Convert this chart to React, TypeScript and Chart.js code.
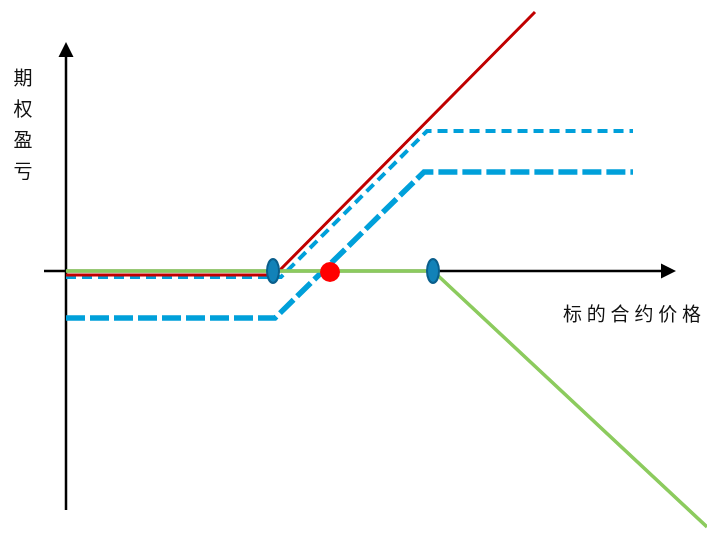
import React, { useEffect, useRef } from "react";
import { Chart, registerables } from "chart.js";

Chart.register(...registerables);

// Data (price units on x, profit/loss units on y)
const longCall = [
  { x: 0, y: -0.4 },
  { x: 20.9, y: -0.4 },
  { x: 46.9, y: 25.9 },
];
const spreadSmall = [
  { x: 0, y: -0.6 },
  { x: 21.5, y: -0.6 },
  { x: 36.1, y: 14.0 },
  { x: 56.7, y: 14.0 },
];
const spreadLarge = [
  { x: 0, y: -4.7 },
  { x: 20.9, y: -4.7 },
  { x: 35.8, y: 9.9 },
  { x: 56.7, y: 9.9 },
];
const shortCall = [
  { x: 0, y: 0 },
  { x: 36.7, y: 0 },
  { x: 64.1, y: -25.6 },
];
const strikes = [
  { x: 20.7, y: 0 },
  { x: 36.7, y: 0 },
];
const breakEven = [{ x: 26.4, y: -0.1 }];

const xRange = { min: -6.6, max: 64.1, axisFrom: -2.2, axisTo: 61.0 };
const yRange = { min: -26.5, max: 27.1, axisFrom: -23.9, axisTo: 22.9 };

const yLabel = ["期", "权", "盈", "亏"];
const xLabel = "标的合约价格";

function makeEllipse(): HTMLCanvasElement {
  const c = document.createElement("canvas");
  c.width = 16;
  c.height = 28;
  const g = c.getContext("2d")!;
  g.beginPath();
  g.ellipse(8, 14, 6, 12, 0, 0, Math.PI * 2);
  g.fillStyle = "#1282B8";
  g.fill();
  g.lineWidth = 2;
  g.strokeStyle = "#0A5F8C";
  g.stroke();
  return c;
}

export default function App() {
  const ref = useRef<HTMLCanvasElement | null>(null);

  useEffect(() => {
    document.body.style.margin = "0";
    document.body.style.overflow = "hidden";
    const canvas = ref.current!;
    const ellipse = makeEllipse();

    const axesPlugin = {
      id: "axesPlugin",
      beforeDatasetsDraw(chart: any) {
        const ctx = chart.ctx;
        const xs = chart.scales.x;
        const ys = chart.scales.y;
        const x0 = xs.getPixelForValue(0);
        const y0 = ys.getPixelForValue(0);
        const xl = xs.getPixelForValue(xRange.axisFrom);
        const xr = xs.getPixelForValue(xRange.axisTo);
        const yt = ys.getPixelForValue(yRange.axisTo);
        const yb = ys.getPixelForValue(yRange.axisFrom);
        ctx.save();
        ctx.strokeStyle = "#000";
        ctx.fillStyle = "#000";
        ctx.lineWidth = 2.5;
        // x axis
        ctx.beginPath();
        ctx.moveTo(xl, y0);
        ctx.lineTo(xr - 14, y0);
        ctx.stroke();
        ctx.beginPath();
        ctx.moveTo(xr, y0);
        ctx.lineTo(xr - 15, y0 - 7.5);
        ctx.lineTo(xr - 15, y0 + 7.5);
        ctx.closePath();
        ctx.fill();
        // y axis
        ctx.beginPath();
        ctx.moveTo(x0, yb);
        ctx.lineTo(x0, yt + 14);
        ctx.stroke();
        ctx.beginPath();
        ctx.moveTo(x0, yt);
        ctx.lineTo(x0 - 7.5, yt + 15);
        ctx.lineTo(x0 + 7.5, yt + 15);
        ctx.closePath();
        ctx.fill();
        // labels
        ctx.font = '19px "Noto Sans CJK SC"';
        ctx.fillStyle = "#111";
        ctx.textAlign = "center";
        ctx.textBaseline = "middle";
        yLabel.forEach((ch, i) => {
          ctx.fillText(ch, 23, 78 + i * 31);
        });
        ctx.textAlign = "left";
        for (let i = 0; i < xLabel.length; i++) {
          ctx.fillText(xLabel[i], 563 + i * 23.8, 314);
        }
        ctx.restore();
      },
    };

    const chart = new Chart(canvas, {
      type: "scatter",
      data: {
        datasets: [
          {
            data: breakEven,
            pointRadius: 10,
            pointBackgroundColor: "#FF0000",
            pointBorderWidth: 0,
            showLine: false,
            order: 0,
          },
          {
            data: strikes,
            pointStyle: ellipse as any,
            pointRadius: 10,
            showLine: false,
            order: 1,
          },
          {
            data: shortCall,
            showLine: true,
            borderColor: "#8CCB5E",
            borderWidth: 3.5,
            pointRadius: 0,
            order: 2,
          },
          {
            data: longCall,
            showLine: true,
            borderColor: "#C00000",
            borderWidth: 3,
            pointRadius: 0,
            order: 3,
          },
          {
            data: spreadSmall,
            showLine: true,
            borderColor: "#00A0DA",
            borderWidth: 4,
            borderDash: [10, 6],
            pointRadius: 0,
            order: 4,
          },
          {
            data: spreadLarge,
            showLine: true,
            borderColor: "#00A0DA",
            borderWidth: 5.5,
            borderDash: [19, 5],
            pointRadius: 0,
            order: 5,
          },
        ],
      },
      options: {
        responsive: false,
        animation: false,
        layout: { padding: 0, autoPadding: false },
        plugins: {
          legend: { display: false },
          tooltip: { enabled: false },
        },
        scales: {
          x: { type: "linear", min: xRange.min, max: xRange.max, display: false },
          y: { type: "linear", min: yRange.min, max: yRange.max, display: false },
        },
      },
      plugins: [axesPlugin],
    });
    return () => chart.destroy();
  }, []);

  return (
    <div style={{ position: "absolute", left: 0, top: 0, width: 707, height: 536, background: "#fff" }}>
      <canvas ref={ref} width={707} height={536} />
    </div>
  );
}
